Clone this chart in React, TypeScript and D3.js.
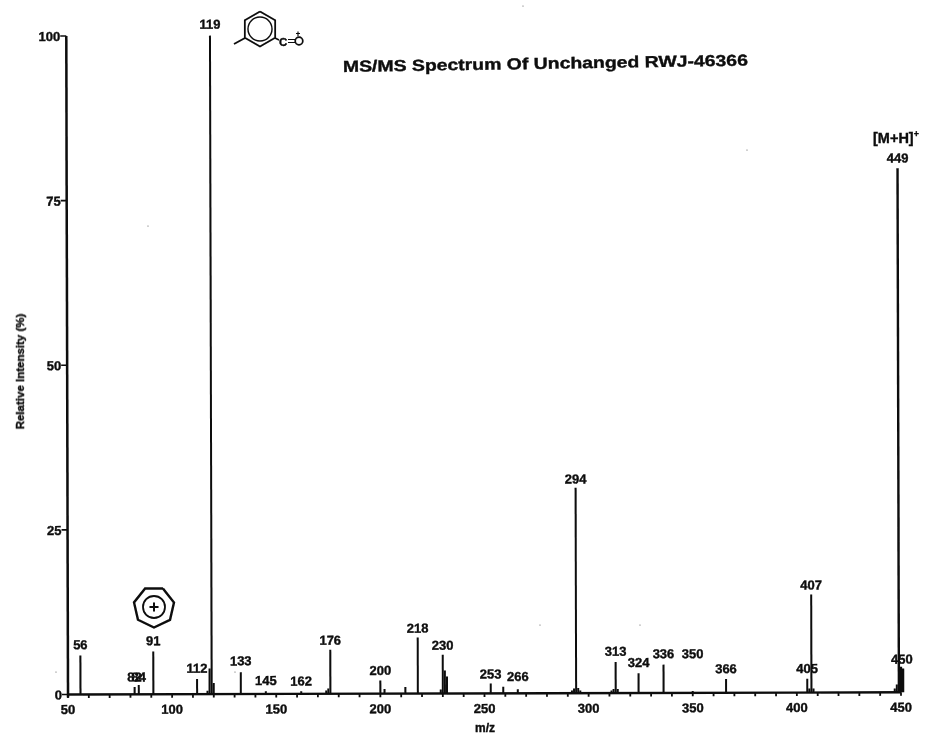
import React from "react";
import * as d3 from "d3";

const title = "MS/MS Spectrum Of Unchanged RWJ-46366";
const xLabel = "m/z";
const yLabel = "Relative Intensity (%)";
const parentLabel = "[M+H]";
const xTicks = [50, 100, 150, 200, 250, 300, 350, 400, 450];
const xMinorTicks = d3.range(50, 451, 10);
const yTicks = [0, 25, 50, 75, 100];

const peakMz = [56, 82, 84, 91, 112, 117, 118, 119, 120, 133, 145, 162, 174, 175, 176, 200, 202, 212, 218, 229, 230, 231, 232, 253, 259, 266, 292, 293, 294, 295, 296, 311, 312, 313, 314, 324, 336, 350, 366, 405, 406, 407, 408, 447, 448, 449, 450, 451];
const peakValues = [5.9, 1.1, 1.4, 6.5, 2.3, 0.5, 3.9, 100, 1.7, 3.3, 0.4, 0.4, 0.5, 0.8, 6.7, 2.0, 0.7, 1.0, 8.5, 0.6, 5.9, 3.5, 2.6, 1.5, 1.0, 0.6, 0.4, 0.7, 31.2, 0.8, 0.4, 0.4, 0.6, 4.7, 0.6, 3.0, 4.3, 0.3, 2.1, 2.1, 0.6, 14.9, 0.6, 0.6, 1.2, 79.6, 3.9, 3.6];

const labelTexts = ["56", "82", "84", "91", "112", "119", "133", "145", "162", "176", "200", "218", "230", "253", "266", "294", "313", "324", "336", "350", "366", "405", "407", "449", "450"];
const labelMz = [56, 82, 84, 91, 112, 119, 133, 145, 162, 176, 200, 218, 230, 253, 266, 294, 313, 324, 336, 350, 366, 405, 407, 449, 450.5];
const labelLevels = [6.4, 1.5, 1.5, 7.0, 2.8, 100.6, 3.9, 0.9, 0.8, 7.0, 2.4, 8.8, 6.2, 1.8, 1.4, 31.4, 5.2, 3.5, 4.8, 4.8, 2.5, 2.5, 15.2, 80.0, 3.9];

const specks = [[148, 226], [523, 6], [747, 150], [540, 625], [56, 672], [640, 625], [235, 672]];

const ring = (cx: number, cy: number, r: number, n: number, rot: number) => {
  const pts = d3.range(n + 1).map((i) => {
    const a = rot + (i / n) * Math.PI * 2;
    return [cx + r * Math.sin(a), cy - r * Math.cos(a)] as [number, number];
  });
  return d3.line()(pts) as string;
};

export default function App() {
  const x = d3.scaleLinear().domain([50, 450]).range([68, 901]);
  const y = d3.scaleLinear().domain([0, 100]).range([694.5, 36]);
  const ink = "#0a0a0a";
  const font = "'Liberation Sans', Arial, sans-serif";
  const heavy = { stroke: ink, strokeWidth: 0.35 };
  return (
    <svg width={925} height={735} viewBox="0 0 925 735" style={{ position: "fixed", left: 0, top: 0, background: "#fff" }} fontFamily={font} fontWeight={700} fill={ink}>
      <defs>
        <filter id="scan" x="0" y="0" width="925" height="735" filterUnits="userSpaceOnUse">
          <feGaussianBlur stdDeviation="0.35" />
        </filter>
      </defs>
      <g filter="url(#scan)">
        <g transform={`rotate(-0.15 ${x(50)} ${y(0)})`}>
          {/* axes */}
          <line x1={x(50)} x2={x(50)} y1={y(100)} y2={y(0) + 3} stroke={ink} strokeWidth={2.5} />
          <line x1={x(50)} x2={x(450)} y1={y(0)} y2={y(0)} stroke={ink} strokeWidth={2.4} />
          {yTicks.map((t) => (
            <g key={t}>
              <line x1={x(50) - 6} x2={x(50)} y1={y(t)} y2={y(t)} stroke={ink} strokeWidth={1.6} />
              <text x={x(50) - 6} y={y(t) + 5} textAnchor="end" fontSize={13} {...heavy}>{t}</text>
            </g>
          ))}
          {xMinorTicks.map((t) => (
            <line key={t} x1={x(t)} x2={x(t)} y1={y(0)} y2={y(0) + 3.5} stroke={ink} strokeWidth={1.8} />
          ))}
          {xTicks.map((t) => (
            <text key={t} x={x(t)} y={714} textAnchor="middle" fontSize={13} {...heavy}>{t}</text>
          ))}

          {/* peaks */}
          {peakMz.map((m, i) => (
            <line key={i} x1={x(m)} x2={x(m)} y1={y(0)} y2={y(peakValues[i])} stroke={ink} strokeWidth={m === 449 || m === 450 || m === 451 ? 2.4 : 2} />
          ))}

          {/* peak labels */}
          {labelTexts.map((t, i) => (
            <text key={i} x={x(labelMz[i])} y={y(labelLevels[i]) - 3} textAnchor="middle" fontSize={13} {...heavy}>{t}</text>
          ))}
        </g>

        <text x={485} y={731.5} textAnchor="middle" fontSize={12} {...heavy}>{xLabel}</text>
        <text transform="translate(24,371.5) rotate(-90)" textAnchor="middle" fontSize={11.5} {...heavy}>{yLabel}</text>

        {/* title */}
        <text x={343} y={72} fontSize={16} textLength={405} lengthAdjust="spacingAndGlyphs" transform="rotate(-0.9 343 72)" {...heavy}>{title}</text>

        {/* parent ion label */}
        <text x={873} y={143} fontSize={14.5} {...heavy}>
          {parentLabel}
          <tspan dy={-6} fontSize={9}>+</tspan>
        </text>

        {/* tropylium structure */}
        <g fill="none" stroke={ink}>
          <path d={ring(154, 607, 20.5, 7, 0.45)} strokeWidth={2.4} />
          <circle cx={154} cy={607} r={11} strokeWidth={1.8} />
          <path d={"M149.5 607H158.5M154 602.5V611.5"} strokeWidth={2} />
        </g>

        {/* toluoyl cation structure */}
        <g fill="none" stroke={ink}>
          <path d={ring(260, 29, 17.5, 6, 0)} strokeWidth={1.8} />
          <circle cx={260} cy={29} r={12} strokeWidth={1.4} />
          <path d="M245 38L234 44" strokeWidth={1.8} />
          <path d="M275 38L279 40" strokeWidth={1.5} />
          <circle cx={299} cy={41} r={3.8} strokeWidth={1.7} />
          <path d="M288 39.5H295M288 42.5H295" strokeWidth={1.1} />
          <path d="M298 31.5V36M296 33.5H300" strokeWidth={1.1} />
        </g>
        <text x={279} y={46} fontSize={11.5} {...heavy}>C</text>

        {/* paper specks */}
        {specks.map(([sx, sy], i) => (
          <circle key={i} cx={sx} cy={sy} r={0.6} fill="#555" />
        ))}
      </g>
    </svg>
  );
}
